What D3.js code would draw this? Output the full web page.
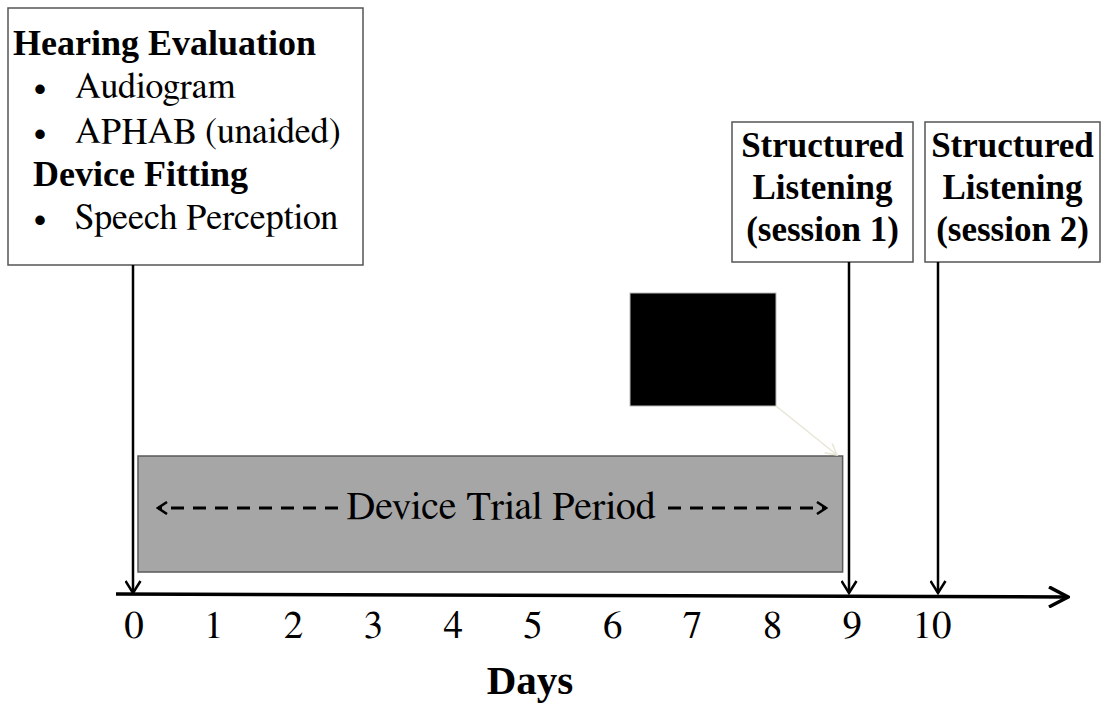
<!DOCTYPE html>
<html><head><meta charset="utf-8"><script src="https://cdn.jsdelivr.net/npm/d3@7"></script></head>
<body style="margin:0">
<svg id="s" width="1110" height="707"></svg>
<script>
// data
const days = [0, 1, 2, 3, 4, 5, 6, 7, 8, 9, 10];
const eventDays = [0, 9, 10];
const trialPeriod = [0.05, 8.88];
const trialLabel = "Device Trial Period";
const axisLabel = "Days";
const firstVisitLines = [
  { text: "Hearing Evaluation", bold: true, bullet: false },
  { text: "Audiogram", bold: false, bullet: true },
  { text: "APHAB (unaided)", bold: false, bullet: true },
  { text: "Device Fitting", bold: true, bullet: false },
  { text: "Speech Perception", bold: false, bullet: true }
];
const sessionBoxes = [
  { day: 9, lines: ["Structured", "Listening", "(session 1)"] },
  { day: 10, lines: ["Structured", "Listening", "(session 2)"] }
];

const FONT_BOLD = '"Liberation Serif"';
const FONT_REG = 'FreeSerif, Tinos, "Liberation Serif", serif';
const svg = d3.select("#s");
const axisY = 594;

const x = d3.scaleLinear().domain([0, 10]).range([134, 932]);

const shapes = svg.append("g");
const labels = svg.append("g");

function addText(px, py, txt, size, bold, anchor) {
  const t = labels.append("text")
    .attr("x", px)
    .attr("y", py)
    .attr("font-family", bold ? FONT_BOLD : FONT_REG)
    .attr("font-size", size)
    .text(txt);
  if (bold) t.attr("font-weight", "bold");
  if (anchor) t.attr("text-anchor", anchor);
  return t;
}

// first visit box text
const lineY = [55, 98, 143, 186, 229];
firstVisitLines.forEach((l, i) => {
  if (l.bullet) addText(40, lineY[i], "\u2022", 35, false, "middle");
  addText(l.bullet ? 75 : (i === 0 ? 13 : 33), lineY[i], l.text, l.bold ? 36 : 36, l.bold);
});

addText(501, 519, trialLabel, 40, false, "middle");

// tick labels
days.forEach((d) => addText(x(d), 638, String(d), 39, false, "middle"));

addText(530, 694, axisLabel, 41, true, "middle");

// session box text
const boxX = [[732, 913], [925, 1100]];
sessionBoxes.forEach((b, i) => {
  const [x0, x1] = boxX[i];
  b.lines.forEach((t, j) => {
    addText((x0 + x1) / 2, 157 + j * 42, t, 35, true, "middle");
  });
});

// arrowhead markers
const defs = svg.append("defs");
function addMarker(id, w, h, color, sw) {
  defs.append("marker")
    .attr("id", id)
    .attr("markerUnits", "userSpaceOnUse")
    .attr("viewBox", `0 0 ${w + 2} ${h + 2}`)
    .attr("markerWidth", w + 2)
    .attr("markerHeight", h + 2)
    .attr("refX", w)
    .attr("refY", h / 2 + 1)
    .attr("orient", "auto")
    .append("path")
    .attr("d", `M1,1 L${w},${h / 2 + 1} L1,${h + 1}`)
    .attr("fill", "none")
    .attr("stroke", color)
    .attr("stroke-width", sw);
}
addMarker("arrBig", 20, 20, "#000", 3.5);
addMarker("arrV", 13, 15, "#000", 2.5);
addMarker("arrDash", 10, 12, "#000", 2.5);
addMarker("arrPale", 12, 12, "#e8e6d6", 1.5);

// boxes
shapes.append("rect")
  .attr("x", 8).attr("y", 8)
  .attr("width", 355).attr("height", 257)
  .attr("fill", "#fff")
  .attr("stroke", "#555").attr("stroke-width", 1.5);

boxX.forEach(([x0, x1]) => {
  shapes.append("rect")
    .attr("x", x0).attr("y", 122)
    .attr("width", x1 - x0).attr("height", 140)
    .attr("fill", "#fff")
    .attr("stroke", "#555").attr("stroke-width", 1.5);
});

// trial period box
shapes.append("rect")
  .attr("x", x(trialPeriod[0]))
  .attr("y", 456)
  .attr("width", x(trialPeriod[1]) - x(trialPeriod[0]))
  .attr("height", 116)
  .attr("fill", "#a6a6a6")
  .attr("stroke", "#5a5a5a")
  .attr("stroke-width", 1.5);

shapes.append("line")
  .attr("x1", 338).attr("x2", 158)
  .attr("y1", 508).attr("y2", 508)
  .attr("stroke", "#000").attr("stroke-width", 3)
  .attr("stroke-dasharray", "13,9")
  .attr("marker-end", "url(#arrDash)");

shapes.append("line")
  .attr("x1", 668).attr("x2", 826)
  .attr("y1", 508).attr("y2", 508)
  .attr("stroke", "#000").attr("stroke-width", 3)
  .attr("stroke-dasharray", "13,9")
  .attr("marker-end", "url(#arrDash)");

// black box with pale pointer
shapes.append("rect")
  .attr("x", 630).attr("y", 293)
  .attr("width", 146).attr("height", 113)
  .attr("fill", "#000")
  .attr("stroke", "#bbb").attr("stroke-width", 1);

shapes.append("line")
  .attr("x1", 776).attr("y1", 406)
  .attr("x2", 837).attr("y2", 455)
  .attr("stroke", "#e8e6d6").attr("stroke-width", 1.5)
  .attr("marker-end", "url(#arrPale)");

// main axis
shapes.append("line")
  .attr("x1", 116).attr("x2", 1068)
  .attr("y1", axisY).attr("y2", axisY + 3)
  .attr("stroke", "#000").attr("stroke-width", 3.5)
  .attr("marker-end", "url(#arrBig)");

// event arrows
const topY = { 0: 265, 9: 262, 10: 262 };
const arrowX = { 0: 133, 9: 849, 10: 938 };
shapes.selectAll(".event-arrow")
  .data(eventDays)
  .enter()
  .append("line")
  .attr("class", "event-arrow")
  .attr("x1", (d) => arrowX[d])
  .attr("x2", (d) => arrowX[d])
  .attr("y1", (d) => topY[d])
  .attr("y2", axisY - 1)
  .attr("stroke", "#000")
  .attr("stroke-width", 2.5)
  .attr("marker-end", "url(#arrV)");
</script></body></html>
